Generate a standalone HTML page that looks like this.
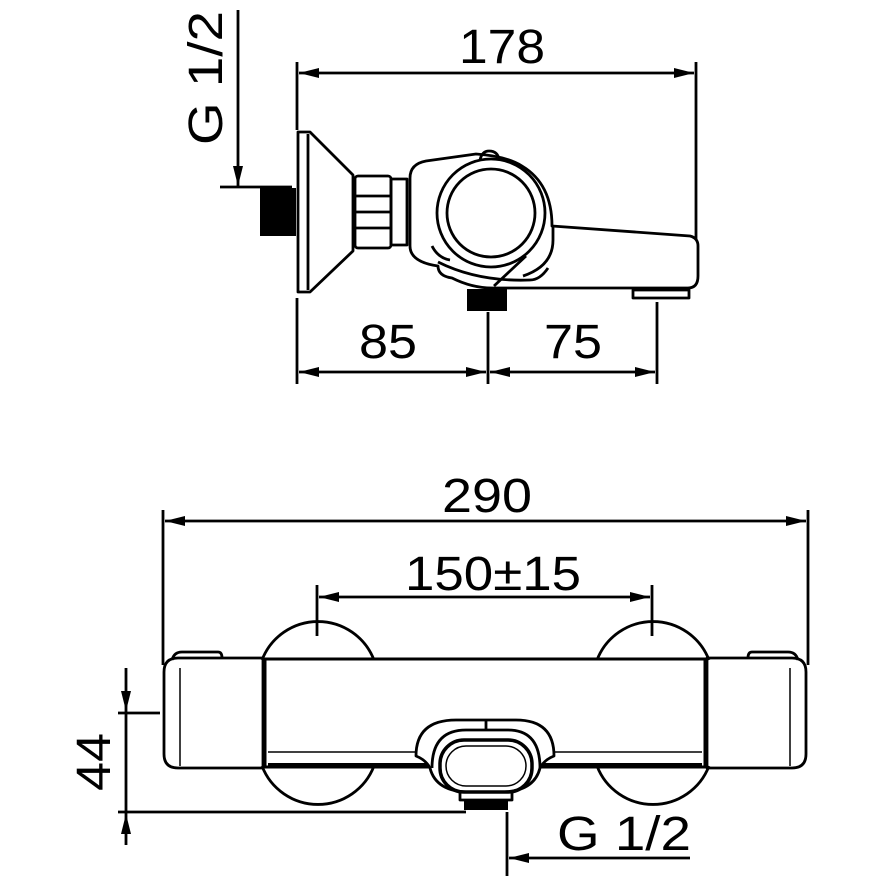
<!DOCTYPE html>
<html><head><style>
html,body{margin:0;padding:0;background:#fff}
svg{display:block}
text{font-family:"Liberation Sans",sans-serif;font-size:48px;fill:#000}
</style></head><body>
<svg width="889" height="889" viewBox="0 0 889 889" xmlns="http://www.w3.org/2000/svg" fill="none" stroke="#000" stroke-width="2.8" stroke-linejoin="round">
<defs>
<marker id="a" viewBox="0 0 20 10" refX="20" refY="5" markerWidth="20" markerHeight="10" markerUnits="userSpaceOnUse" orient="auto-start-reverse"><path d="M0 0L20 5L0 10Z" fill="#000" stroke="none"/></marker>
</defs>
<!-- ===== TOP VIEW ===== -->
<line x1="297" y1="62" x2="297" y2="130"/>
<line x1="696" y1="62" x2="696" y2="240"/>
<line x1="299" y1="73" x2="694" y2="73" marker-start="url(#a)" marker-end="url(#a)"/>
<text x="502" y="63" text-anchor="middle" textLength="86" lengthAdjust="spacingAndGlyphs" stroke="none">178</text>
<text transform="translate(222,78) rotate(-90)" text-anchor="middle" textLength="134" lengthAdjust="spacingAndGlyphs" stroke="none">G 1/2</text>
<line x1="238" y1="10" x2="238" y2="186" marker-end="url(#a)"/>
<line x1="220" y1="187" x2="292" y2="187"/>
<!-- thread -->
<rect x="260" y="188" width="36" height="48" fill="#000" stroke="none"/>
<!-- flange & cone -->
<path d="M298 132h12l43 43v76l-43 41h-12z"/>
<line x1="308" y1="134" x2="308" y2="290"/>
<!-- nut -->
<rect x="355" y="176" width="36" height="72" rx="3"/>
<line x1="355" y1="196" x2="391" y2="196"/><line x1="355" y1="212" x2="391" y2="212"/><line x1="355" y1="228" x2="391" y2="228"/>
<rect x="391" y="179" width="16" height="66"/>
<!-- body -->
<path d="M410 178q0-14 16-17l50-7q30 2 46 12q30 18 30 60l138 10q8 2 8 10v30q0 12-10 12H492q-20 0-40-10q-14-2-14-12q-28-4-28-20z"/>
<path d="M438 262q40 20 92 18q10 0 18-12"/>
<path d="M553 226v14q0 26-30 36"/>
<path d="M494 286l32-30"/>
<path d="M432 246q6 12 18 14"/>
<circle cx="491" cy="213" r="54"/>
<circle cx="491" cy="213" r="44"/>
<path d="M480 160q2-9 9-9q9 0 10 9"/>
<!-- bottom thread & foot -->
<rect x="467" y="289" width="40" height="22" fill="#000" stroke="none"/>
<rect x="633" y="290" width="56" height="8"/>
<!-- 85/75 dims -->
<line x1="297" y1="298" x2="297" y2="384"/>
<line x1="488" y1="312" x2="488" y2="384"/>
<line x1="657" y1="302" x2="657" y2="384"/>
<line x1="299" y1="372" x2="486" y2="372" marker-start="url(#a)" marker-end="url(#a)"/>
<line x1="490" y1="372" x2="655" y2="372" marker-start="url(#a)" marker-end="url(#a)"/>
<text x="388" y="358" text-anchor="middle" textLength="58" lengthAdjust="spacingAndGlyphs" stroke="none">85</text>
<text x="573" y="358" text-anchor="middle" textLength="58" lengthAdjust="spacingAndGlyphs" stroke="none">75</text>
<!-- ===== BOTTOM VIEW ===== -->
<line x1="163" y1="510" x2="163" y2="665"/>
<line x1="808" y1="510" x2="808" y2="665"/>
<line x1="165" y1="521" x2="806" y2="521" marker-start="url(#a)" marker-end="url(#a)"/>
<text x="487" y="512" text-anchor="middle" textLength="90" lengthAdjust="spacingAndGlyphs" stroke="none">290</text>
<line x1="317" y1="585" x2="317" y2="636"/>
<line x1="652" y1="585" x2="652" y2="636"/>
<line x1="319" y1="597" x2="650" y2="597" marker-start="url(#a)" marker-end="url(#a)"/>
<text x="493" y="590" text-anchor="middle" textLength="176" lengthAdjust="spacingAndGlyphs" stroke="none">150±15</text>
<path d="M262 660a60 60 0 0 1 112 0"/>
<path d="M262 766a60 60 0 0 0 112 0"/>
<path d="M597 660a60 60 0 0 1 112 0"/>
<path d="M597 766a60 60 0 0 0 112 0"/>
<path d="M178 658h85v110h-85q-14 0-14-14v-82q0-14 14-14z"/>
<path d="M792 658h-85v110h85q14 0 14-14v-82q0-14-14-14z"/>
<line x1="180" y1="668" x2="180" y2="766" stroke-width="1.5"/>
<line x1="790" y1="668" x2="790" y2="766" stroke-width="1.5"/>
<path d="M172 660q2-8 10-8h36q4 0 4 6" />
<path d="M798 660q-2-8-10-8h-36q-4 0-4 6"/>
<rect x="265" y="659" width="440" height="108" stroke-width="3"/>
<line x1="268" y1="765" x2="702" y2="765" stroke-width="4"/>
<line x1="268" y1="752" x2="702" y2="752" stroke-width="1.5"/>
<path d="M416 756q0-36 40-36h60q38 0 38 36q-10 4-14 12q-6 24-40 24h-30q-34 0-40-24q-4-8-14-12z" fill="#fff"/>
<path d="M486 720v10"/>
<path d="M432 768q0-38 34-38h42q32 0 32 38"/>
<rect x="440" y="740" width="92" height="52" rx="24" stroke-width="3.5"/>
<rect x="446" y="746" width="80" height="40" rx="20" stroke-width="1.5"/>
<rect x="460" y="792" width="52" height="8"/>
<rect x="464" y="800" width="44" height="10" fill="#000" stroke="none"/>
<line x1="118" y1="713" x2="160" y2="713"/>
<line x1="118" y1="812" x2="466" y2="812"/>
<line x1="126" y1="668" x2="126" y2="711" marker-end="url(#a)"/>
<line x1="126" y1="711" x2="126" y2="814"/>
<line x1="126" y1="845" x2="126" y2="814" marker-end="url(#a)"/>
<text transform="translate(110,762) rotate(-90)" text-anchor="middle" textLength="58" lengthAdjust="spacingAndGlyphs" stroke="none">44</text>
<line x1="507" y1="812" x2="507" y2="876"/>
<line x1="690" y1="858" x2="509" y2="858" marker-end="url(#a)"/>
<text x="624" y="850" text-anchor="middle" textLength="134" lengthAdjust="spacingAndGlyphs" stroke="none">G 1/2</text>
</svg>
</body></html>
